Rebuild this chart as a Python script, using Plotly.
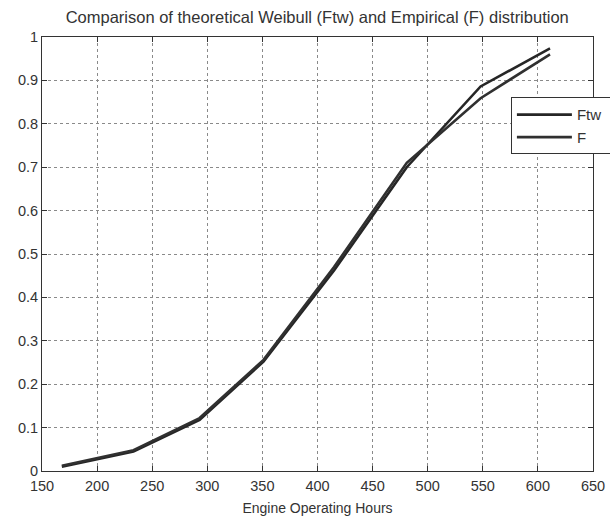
import plotly.graph_objects as go

hours = [168, 233, 293, 351, 415, 481, 548, 611]
ftw = [0.010, 0.045, 0.118, 0.252, 0.462, 0.700, 0.886, 0.974]
f_emp = [0.012, 0.048, 0.122, 0.256, 0.470, 0.710, 0.859, 0.960]

x_ticks = [150, 200, 250, 300, 350, 400, 450, 500, 550, 600, 650]
y_ticks = [0, 0.1, 0.2, 0.3, 0.4, 0.5, 0.6, 0.7, 0.8, 0.9, 1]
y_labels = ["0", "0.1", "0.2", "0.3", "0.4", "0.5", "0.6", "0.7", "0.8", "0.9", "1"]

PAD = "\u00a0"

fig = go.Figure()
fig.add_trace(go.Scatter(x=hours, y=ftw, mode="lines", name="Ftw" + PAD,
                         line=dict(color="#262626", width=2.6)))
fig.add_trace(go.Scatter(x=hours, y=f_emp, mode="lines", name="F" + PAD,
                         line=dict(color="#303030", width=2.6)))

FONT = "Liberation Sans, Arial"

axis_common = dict(
    showline=True, linecolor="#333333", linewidth=1, mirror="ticks",
    ticks="inside", ticklen=5, tickcolor="#333333",
    showgrid=True, gridcolor="#8a8a8a", griddash="dot", gridwidth=1,
    zeroline=False,
    tickfont=dict(family=FONT, size=14.5, color="#333333"),
)

fig.update_xaxes(range=[150, 650], tickvals=x_ticks, ticktext=[str(v) for v in x_ticks],
                 ticklabeloverflow="allow", ticklabelstandoff=2,
                 title=dict(text="Engine Operating Hours", standoff=9,
                            font=dict(family=FONT, size=14, color="#333333")),
                 **axis_common)
fig.update_yaxes(range=[0, 1], tickvals=y_ticks, ticktext=y_labels, **axis_common)

fig.update_layout(
    width=610, height=516,
    margin=dict(l=42, r=17, t=37, b=45, autoexpand=False),
    paper_bgcolor="white", plot_bgcolor="white",
    title=dict(text="Comparison of theoretical Weibull (Ftw) and Empirical (F) distribution",
               x=0.52, xanchor="center", y=0.967, yanchor="middle",
               font=dict(family=FONT, size=16.5, color="#333333")),
    legend=dict(x=0.851, y=0.861, xanchor="left", yanchor="top",
                bgcolor="white", bordercolor="#333333", borderwidth=1,
                itemwidth=55,
                font=dict(family=FONT, size=15, color="#333333"),
                tracegroupgap=0),
    showlegend=True,
)

fig.write_html("out.html", config={"displayModeBar": False},
               post_script="document.body.style.margin='0';")
